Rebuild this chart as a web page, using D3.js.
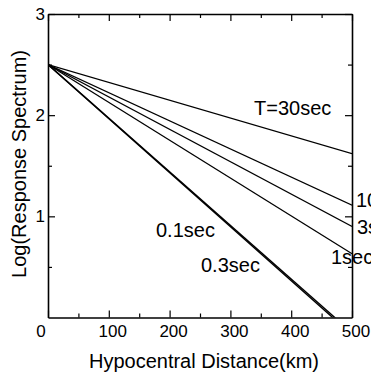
<!DOCTYPE html>
<html>
<head>
<meta charset="utf-8">
<script src="https://cdn.jsdelivr.net/npm/d3@7"></script>
<style>
  body { margin: 0; background: #fff; overflow: hidden; }
  svg { display: block; }
  text { font-family: "Liberation Sans", Arial, Helvetica, sans-serif; fill: #000; }
</style>
</head>
<body>
<svg id="chart" width="371" height="376"></svg>
<script>
// Hypocentral distance (km) at which each attenuation line is sampled
const distances = [0, 500];

// Log(response spectrum) for each natural period
const periods = ["T=30sec", "10sec", "3sec", "1sec", "0.1sec", "0.3sec"];
const spec30s = [2.5, 1.62];
const spec10s = [2.5, 1.11];
const spec3s = [2.5, 0.90];
const spec1s = [2.5, 0.63];
const spec01s = [2.5, -0.15];
const spec03s = [2.5, -0.17];

// Tick values
const xMajor = [0, 100, 200, 300, 400, 500];
const xMinor = [50, 150, 250, 350, 450];
const yMajor = [1, 2, 3];
const yMinor = [0.5, 1.5, 2.5];

const svg = d3.select("#chart");
const plotL = 48, plotR = 352, plotT = 14, plotB = 317.5;

const x = d3.scaleLinear().domain([0, 500]).range([plotL, plotR]);
const y = d3.scaleLinear().domain([0, 3]).range([plotB, plotT]);

const series = [
  { name: periods[0], values: spec30s, width: 1.1 },
  { name: periods[1], values: spec10s, width: 1.1 },
  { name: periods[2], values: spec3s, width: 1.1 },
  { name: periods[3], values: spec1s, width: 1.1 },
  { name: periods[4], values: spec01s, width: 1.4 },
  { name: periods[5], values: spec03s, width: 1.4 }
];

svg.append("clipPath").attr("id", "plot-clip")
  .append("rect")
  .attr("x", plotL).attr("y", plotT)
  .attr("width", plotR - plotL).attr("height", plotB - plotT);

const line = d3.line()
  .x((d, i) => x(distances[i]))
  .y(d => y(d));

svg.append("g").attr("clip-path", "url(#plot-clip)")
  .selectAll("path")
  .data(series)
  .join("path")
  .attr("d", d => line(d.values))
  .attr("fill", "none")
  .attr("stroke", "#000")
  .attr("stroke-width", d => d.width);

// Axes with inward ticks on all four sides
function styleAxis(g) {
  g.selectAll("path.domain").attr("stroke", "#000").attr("stroke-width", 1.6);
  g.selectAll(".tick line").attr("stroke", "#000").attr("stroke-width", 1.2);
  g.selectAll(".tick text").attr("font-size", 17).attr("fill", "#000")
    .attr("font-family", "\"Liberation Sans\", Arial, sans-serif");
}

function minorTicks(g, axis) {
  g.call(axis).call(gg => gg.select("path.domain").remove())
    .selectAll(".tick line").attr("stroke", "#000").attr("stroke-width", 1.2);
}

// bottom
const gBottom = svg.append("g").attr("transform", `translate(0,${plotB})`)
  .call(d3.axisBottom(x).tickValues(xMajor).tickSizeInner(-7).tickSizeOuter(0).tickPadding(7.5));
styleAxis(gBottom);
gBottom.selectAll(".tick text").attr("dx", d => d === 0 ? -7.5 : 3.5);
svg.append("g").attr("transform", `translate(0,${plotB})`)
  .call(g => minorTicks(g, d3.axisBottom(x).tickValues(xMinor).tickSize(-4).tickFormat("")));

// top
const gTop = svg.append("g").attr("transform", `translate(0,${plotT})`)
  .call(d3.axisTop(x).tickValues(xMajor).tickSizeInner(-7).tickSizeOuter(0).tickFormat(""));
styleAxis(gTop);
svg.append("g").attr("transform", `translate(0,${plotT})`)
  .call(g => minorTicks(g, d3.axisTop(x).tickValues(xMinor).tickSize(-4).tickFormat("")));

// left
const gLeft = svg.append("g").attr("transform", `translate(${plotL},0)`)
  .call(d3.axisLeft(y).tickValues(yMajor).tickSizeInner(-7).tickSizeOuter(0).tickPadding(3).tickFormat(d3.format("d")));
styleAxis(gLeft);
svg.append("g").attr("transform", `translate(${plotL},0)`)
  .call(g => minorTicks(g, d3.axisLeft(y).tickValues(yMinor).tickSize(-4).tickFormat("")));

// right
const gRight = svg.append("g").attr("transform", `translate(${plotR},0)`)
  .call(d3.axisRight(y).tickValues(yMajor).tickSizeInner(-7).tickSizeOuter(0).tickFormat(""));
styleAxis(gRight);
svg.append("g").attr("transform", `translate(${plotR},0)`)
  .call(g => minorTicks(g, d3.axisRight(y).tickValues(yMinor).tickSize(-4).tickFormat("")));

// Period labels beside the lines
const labelPos = [
  [254, 115], [356, 207], [357, 234], [331, 264], [156, 237], [201, 272]
];
svg.append("g").selectAll("text")
  .data(series)
  .join("text")
  .attr("x", (d, i) => labelPos[i][0])
  .attr("y", (d, i) => labelPos[i][1])
  .attr("font-size", 20)
  .text(d => d.name);

// Axis titles
svg.append("text")
  .attr("x", 204).attr("y", 368)
  .attr("text-anchor", "middle")
  .attr("font-size", 20)
  .text("Hypocentral Distance(km)");

svg.append("text")
  .attr("transform", "translate(26,164) rotate(-90)")
  .attr("text-anchor", "middle")
  .attr("font-size", 20)
  .text("Log(Response Spectrum)");
</script>
</body>
</html>
